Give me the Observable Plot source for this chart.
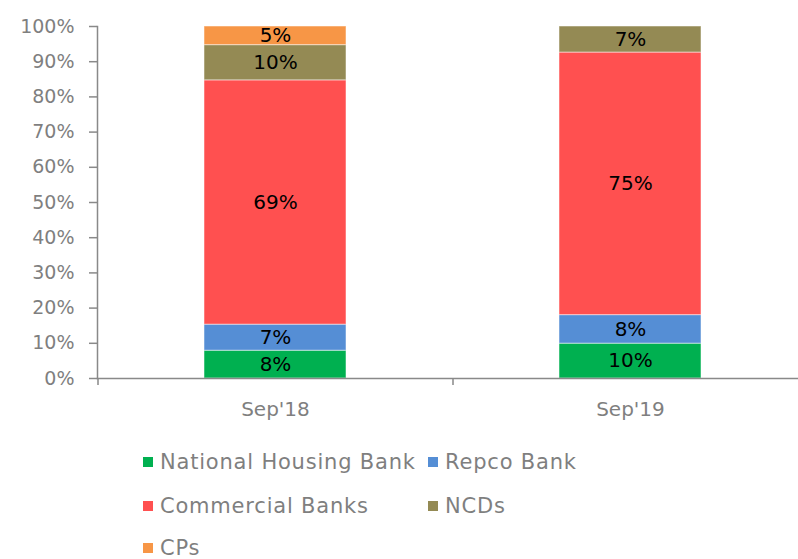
<!DOCTYPE html>
<html>
<head>
<meta charset="utf-8">
<script src="https://cdn.jsdelivr.net/npm/d3@7"></script>
<script src="https://cdn.jsdelivr.net/npm/@observablehq/plot@0.6"></script>
<style>
  html, body { margin: 0; padding: 0; background: #fff; overflow: hidden; }
  #chart svg { display: block; }
  #legend { display: grid; grid-template-columns: 285px 285px; grid-template-rows: 44px 44px 40px; margin-left: 143px;
            font-family: "DejaVu Sans", sans-serif; font-size: 21px; letter-spacing: 0.8px; color: #7f7f7f; }
  #legend .item { display: flex; align-items: center; white-space: nowrap; }
  #legend .sw { width: 10px; height: 10px; margin-right: 7px; flex: none; }
</style>
</head>
<body>
<div id="chart"></div>
<div id="legend"></div>
<script>
const periods = ["Sep'18", "Sep'19"];
const sources = ["National Housing Bank", "Repco Bank", "Commercial Banks", "NCDs", "CPs"];
const sep18 = [7.9, 7.4, 69.4, 10.0, 5.3];
const sep19 = [9.9, 8.1, 74.6, 7.4, 0];
const colors = ["#00B050", "#558ED5", "#FF5050", "#948A54", "#F79646"];
const yTicks = [0, 10, 20, 30, 40, 50, 60, 70, 80, 90, 100];

const series = [sep18, sep19];
const rows = periods.flatMap((p, i) => sources.map((s, j) => ({period: p, source: s, value: series[i][j]})));
const axisColor = "#898989";

const chart = Plot.plot({
  width: 798, height: 440,
  marginLeft: 97, marginRight: 0, marginTop: 26, marginBottom: 62,
  style: {fontFamily: "DejaVu Sans, sans-serif", background: "white"},
  x: {domain: periods, range: [97.5, 807.5], paddingInner: 0.6, paddingOuter: 0.3, label: null},
  y: {domain: [0, 100], label: null},
  color: {domain: sources, range: colors},
  marks: [
    Plot.barY(rows, {x: "period", y: "value", fill: "source", stroke: "white", strokeOpacity: 0.5, strokeWidth: 1}),
    Plot.text(rows.filter(d => d.value > 0), Plot.stackY({
      x: "period", y: "value", z: "source",
      text: d => Math.round(d.value) + "%", fill: "black", fontSize: 20
    })),
    Plot.frame({anchor: "left", stroke: axisColor, strokeWidth: 1.5}),
    Plot.frame({anchor: "bottom", stroke: axisColor, strokeWidth: 1.5}),
    Plot.ruleX(periods, {x: d => d, y1: 0, y2: 0, insetBottom: -7, dx: -177.5, stroke: axisColor, strokeWidth: 1.5}),
    Plot.axisY({ticks: yTicks, tickFormat: d => d + "%", tickSize: 8, tickPadding: 15, fontSize: 19,
                stroke: axisColor, strokeWidth: 1.5, fill: "#7f7f7f", label: null}),
    Plot.axisX({tickSize: 0, tickPadding: 23, fontSize: 20, fill: "#7f7f7f", label: null})
  ]
});
document.getElementById("chart").appendChild(chart);

const legend = document.getElementById("legend");
sources.forEach((s, i) => {
  const item = document.createElement("div");
  item.className = "item";
  const sw = document.createElement("span");
  sw.className = "sw";
  sw.style.background = colors[i];
  item.appendChild(sw);
  item.appendChild(document.createTextNode(s));
  legend.appendChild(item);
});
</script>
</body>
</html>
